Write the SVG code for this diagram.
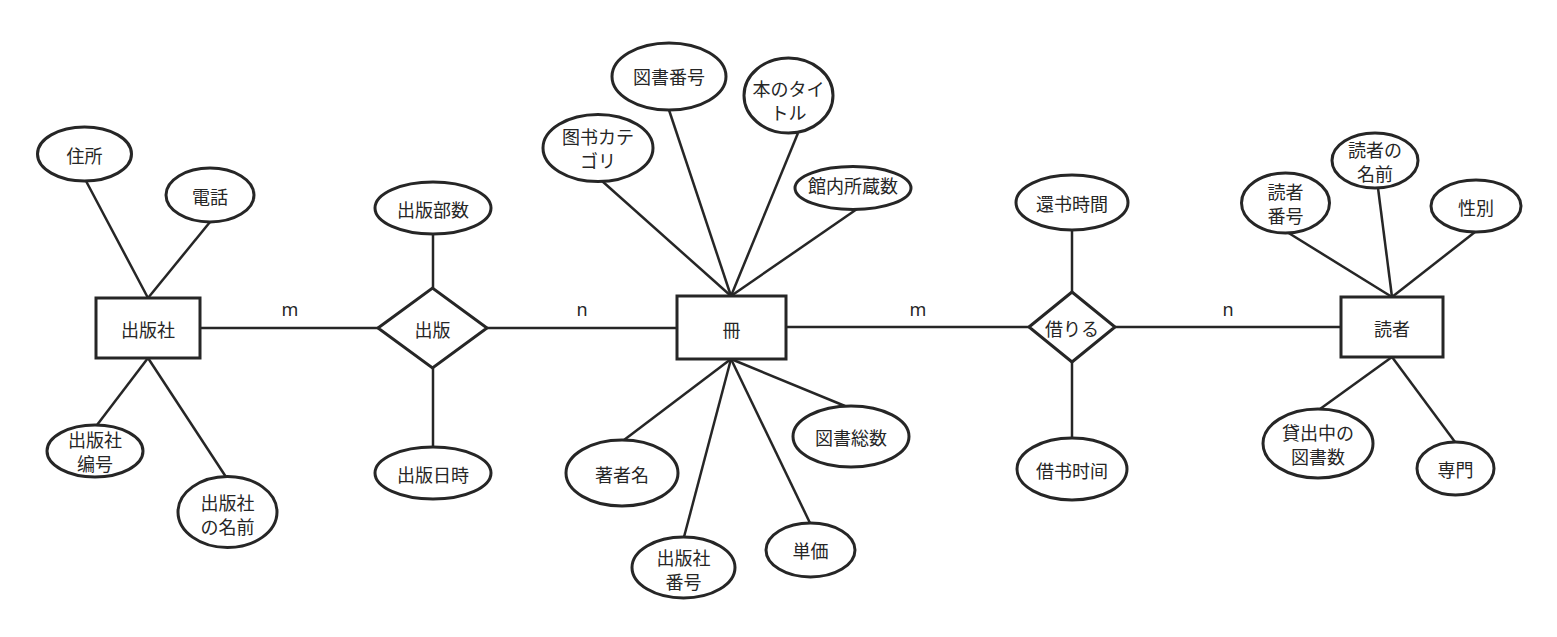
<svg xmlns="http://www.w3.org/2000/svg" width="1557" height="637" viewBox="0 0 1557 637">
<style>
.shape{fill:#ffffff;stroke:#262626;stroke-width:3}
.conn line{stroke:#262626;stroke-width:2.5}
text{font-family:"Noto Sans CJK JP","Noto Sans",sans-serif;font-size:18px;fill:#262626;text-anchor:middle;dominant-baseline:central}
.lbl{font-family:"Noto Sans","Liberation Sans",sans-serif;font-size:18px}
</style>
<rect width="1557" height="637" fill="#ffffff"/>
<g id="connectors" class="conn">
<line x1="200" y1="328" x2="378" y2="328"/>
<line x1="487" y1="328" x2="677" y2="328"/>
<line x1="786" y1="327" x2="1029" y2="327"/>
<line x1="1115" y1="327" x2="1341" y2="327"/>
<line x1="86" y1="181" x2="148" y2="298"/>
<line x1="210" y1="222" x2="148" y2="298"/>
<line x1="97" y1="425" x2="148" y2="358"/>
<line x1="226" y1="477" x2="148" y2="358"/>
<line x1="433" y1="234" x2="433" y2="288"/>
<line x1="433" y1="368" x2="433" y2="447"/>
<line x1="602" y1="181" x2="731" y2="296"/>
<line x1="669" y1="110" x2="731" y2="296"/>
<line x1="798" y1="133" x2="731" y2="296"/>
<line x1="857" y1="209" x2="731" y2="296"/>
<line x1="624" y1="440" x2="731" y2="359"/>
<line x1="684" y1="537" x2="731" y2="359"/>
<line x1="810" y1="523" x2="731" y2="359"/>
<line x1="845" y1="406" x2="731" y2="359"/>
<line x1="1072" y1="230" x2="1072" y2="292"/>
<line x1="1072" y1="362" x2="1072" y2="438"/>
<line x1="1287" y1="232" x2="1392" y2="297"/>
<line x1="1378" y1="188" x2="1392" y2="297"/>
<line x1="1475" y1="232" x2="1392" y2="297"/>
<line x1="1392" y1="357" x2="1320" y2="409"/>
<line x1="1392" y1="357" x2="1455" y2="442"/>
<text class="lbl" x="290" y="309">m</text>
<text class="lbl" x="582" y="309">n</text>
<text class="lbl" x="918" y="309">m</text>
<text class="lbl" x="1228" y="309">n</text>
</g>
<g id="publisher"><rect class="shape" x="96" y="298" width="104" height="60"/><text x="148" y="329">出版社</text></g>
<g id="book"><rect class="shape" x="677" y="296" width="109" height="63"/><text x="731.5" y="329">冊</text></g>
<g id="reader"><rect class="shape" x="1341" y="297" width="102" height="60"/><text x="1392" y="328">読者</text></g>
<g id="publish"><polygon class="shape" points="378,328 432.5,288 487,328 432.5,368"/><text x="432.5" y="329">出版</text></g>
<g id="borrow"><polygon class="shape" points="1029,327 1072,292 1115,327 1072,362"/><text x="1072" y="328">借りる</text></g>
<g id="address"><ellipse class="shape" cx="84.5" cy="154" rx="47" ry="27"/><text x="84.5" y="155">住所</text></g>
<g id="phone"><ellipse class="shape" cx="210" cy="195" rx="44" ry="27"/><text x="210" y="196">電話</text></g>
<g id="pub-id"><ellipse class="shape" cx="95" cy="451" rx="48" ry="26"/><text x="95" y="439">出版社</text><text x="95" y="463">编号</text></g>
<g id="pub-name"><ellipse class="shape" cx="227.5" cy="512" rx="49.5" ry="35.5"/><text x="227.5" y="502">出版社</text><text x="227.5" y="526">の名前</text></g>
<g id="pub-copies"><ellipse class="shape" cx="433" cy="208" rx="58" ry="26"/><text x="433" y="209">出版部数</text></g>
<g id="pub-date"><ellipse class="shape" cx="433" cy="473" rx="58" ry="26"/><text x="433" y="474">出版日時</text></g>
<g id="book-no"><ellipse class="shape" cx="669" cy="76.5" rx="57" ry="33.5"/><text x="669" y="76">図書番号</text></g>
<g id="title"><ellipse class="shape" cx="788.5" cy="95.5" rx="44.5" ry="37.5"/><text x="788.5" y="88">本のタイ</text><text x="788.5" y="112">トル</text></g>
<g id="category"><ellipse class="shape" cx="598" cy="148" rx="55" ry="33.5"/><text x="598" y="136">图书カテ</text><text x="598" y="160">ゴリ</text></g>
<g id="holdings"><ellipse class="shape" cx="853" cy="188" rx="58" ry="21.5"/><text x="853" y="185">館内所蔵数</text></g>
<g id="author"><ellipse class="shape" cx="622" cy="473" rx="56" ry="33"/><text x="622" y="474">著者名</text></g>
<g id="book-pub-no"><ellipse class="shape" cx="683.5" cy="567.5" rx="51.5" ry="30.5"/><text x="683.5" y="557">出版社</text><text x="683.5" y="581">番号</text></g>
<g id="price"><ellipse class="shape" cx="810.5" cy="550" rx="44.5" ry="27"/><text x="810.5" y="550">単価</text></g>
<g id="total"><ellipse class="shape" cx="851" cy="436.5" rx="58" ry="30.5"/><text x="851" y="437">図書総数</text></g>
<g id="return-time"><ellipse class="shape" cx="1072" cy="202.5" rx="56" ry="27.5"/><text x="1072" y="203">還书時間</text></g>
<g id="borrow-time"><ellipse class="shape" cx="1072" cy="469" rx="55" ry="31"/><text x="1072" y="470">借书时间</text></g>
<g id="reader-no"><ellipse class="shape" cx="1285.5" cy="203" rx="44" ry="30"/><text x="1285.5" y="191">読者</text><text x="1285.5" y="215">番号</text></g>
<g id="reader-name"><ellipse class="shape" cx="1375" cy="160.5" rx="43" ry="27.5"/><text x="1375" y="149">読者の</text><text x="1375" y="173">名前</text></g>
<g id="gender"><ellipse class="shape" cx="1476" cy="206" rx="45" ry="26"/><text x="1476" y="207">性別</text></g>
<g id="on-loan"><ellipse class="shape" cx="1318" cy="443.5" rx="55" ry="34.5"/><text x="1318" y="432">貸出中の</text><text x="1318" y="456">図書数</text></g>
<g id="major"><ellipse class="shape" cx="1455.5" cy="468.5" rx="38.5" ry="26.5"/><text x="1455.5" y="469">専門</text></g>
</svg>
